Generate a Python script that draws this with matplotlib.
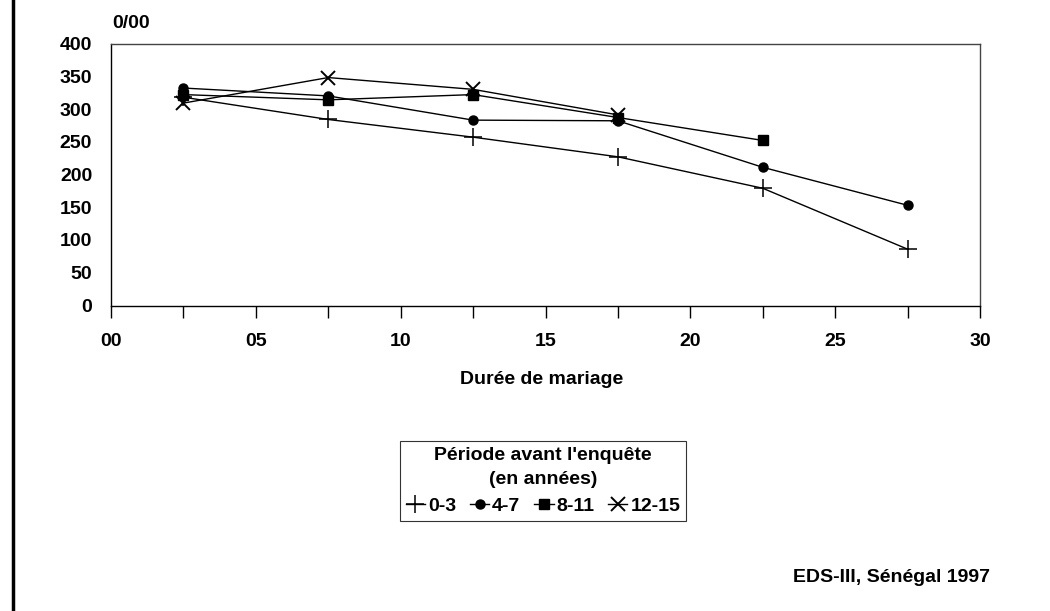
import matplotlib
matplotlib.use("Agg")
import matplotlib.pyplot as plt
from matplotlib.lines import Line2D
from matplotlib.ticker import FixedLocator, FuncFormatter

plt.rcParams['font.family'] = ['Liberation Sans', 'DejaVu Sans']

durations = [2.5, 7.5, 12.5, 17.5, 22.5, 27.5]
series_labels = ["0-3", "4-7", "8-11", "12-15"]
s_0_3 = [318, 284, 257, 227, 179, 86]
s_4_7 = [332, 320, 283, 282, 211, 153]
s_8_11 = [322, 314, 322, 287, 252]
s_12_15 = [309, 348, 330, 291]
y_ticks = [0, 50, 100, 150, 200, 250, 300, 350, 400]

FS = 14
W, H = 1050, 611
fig = plt.figure(figsize=(W / 100, H / 100), dpi=100)
ax = fig.add_axes([111 / W, 1 - 305.5 / H, (980 - 111) / W, (305.5 - 43.5) / H])

styles = [
    dict(marker='+', markersize=13, markeredgewidth=1.1),
    dict(marker='o', markersize=6.5),
    dict(marker='s', markersize=7.5),
    dict(marker='x', markersize=10, markeredgewidth=1.4),
]
data = [s_0_3, s_4_7, s_8_11, s_12_15]
for vals, lab, st in zip(data, series_labels, styles):
    ax.plot(durations[:len(vals)], vals, color='black', linewidth=1.0,
            label=lab, **st)

ax.set_xlim(0, 30)
ax.set_ylim(0, 400)
ax.xaxis.set_major_locator(FixedLocator([i * 2.5 for i in range(13)]))
ax.xaxis.set_major_formatter(FuncFormatter(
    lambda v, p: f"{int(round(v)):02d}" if abs(v / 5 - round(v / 5)) < 1e-6 else ""))
ax.set_yticks(y_ticks)
ax.tick_params(axis='x', direction='out', length=8.5, width=1, pad=11,
               labelsize=FS)
ax.tick_params(axis='y', length=0, pad=13.5, labelsize=FS)
for lab in ax.get_xticklabels() + ax.get_yticklabels():
    lab.set_fontweight('bold')

for s in ['top', 'right']:
    ax.spines[s].set_color('#444444')
    ax.spines[s].set_linewidth(1.0)
ax.spines['left'].set_linewidth(1.0)
ax.spines['bottom'].set_linestyle((0, (3, 1)))
ax.spines['bottom'].set_linewidth(1.0)

fig.text(112 / W, 1 - 23 / H, "0/00", fontsize=FS, fontweight='bold',
         va='center', ha='left')
fig.text(542 / W, 1 - 380 / H, "Durée de mariage", fontsize=FS,
         fontweight='bold', ha='center', va='center')
fig.text(990 / W, 1 - 578 / H, "EDS-III, Sénégal 1997", fontsize=FS,
         fontweight='bold', ha='right', va='center')

leg = fig.legend(loc='center', bbox_to_anchor=(543 / W, 1 - 481 / H),
                 ncol=4, title="Période avant l'enquête\n(en années)",
                 fontsize=FS, title_fontsize=FS, frameon=True,
                 fancybox=False, edgecolor='black', handlelength=1.0,
                 handletextpad=0.15, columnspacing=0.7, borderpad=0.3,
                 labelspacing=0.1, borderaxespad=0)
leg._legend_box.align = "center"
leg._legend_box.sep = 7
leg.get_frame().set_linewidth(0.8)
for t in leg.get_texts():
    t.set_fontweight('bold')
title = leg.get_title()
title.set_fontweight('bold')
title.set_multialignment('center')
title.set_linespacing(1.55)

fig.add_artist(Line2D([13 / W, 13 / W], [0, 1], color='black', linewidth=2.5,
                      transform=fig.transFigure))

fig.savefig("out.png", dpi=100)
